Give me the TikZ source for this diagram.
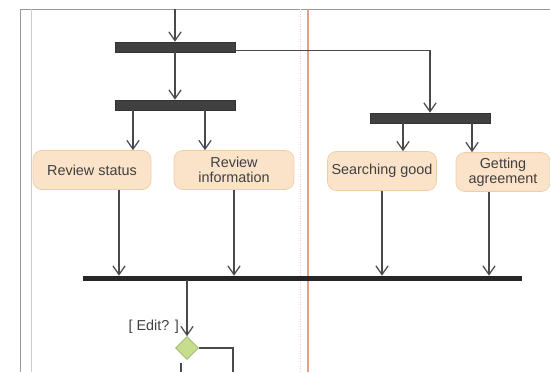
\documentclass[tikz,border=0pt]{standalone}
\usepackage{fontspec}
\setmainfont{Liberation Sans}
\usetikzlibrary{shapes.geometric,arrows.meta}
\definecolor{barfill}{HTML}{404040}
\definecolor{actfill}{HTML}{FBE3C9}
\definecolor{actline}{HTML}{F1CDA6}
\definecolor{decfill}{HTML}{C6DD8F}
\definecolor{decline}{HTML}{9CB36A}
\definecolor{flowline}{HTML}{4A4A4A}
\definecolor{laneline}{HTML}{E2A184}
\begin{document}
\begin{tikzpicture}[x=0.02cm, y=-0.02cm,
  bar/.style = {draw=black!80, fill=barfill, minimum width=2.4cm, minimum height=0.2cm, inner sep=0pt},
  act/.style = {draw=actline, fill=actfill, rounded corners=5pt, minimum height=0.78cm, inner sep=1pt,
                align=center, font=\fontsize{8.2}{8.7}\selectfont, text=black!75},
  arr/.style = {draw=flowline, line width=0.7pt, -{Straight Barb[length=5pt, width=7pt]}},
  flow/.style = {draw=flowline, line width=0.7pt}] 
\useasboundingbox (0,0) rectangle (550,372);
% frame and lanes
\draw[black!40] (20,372) -- (20,9) -- (550,9);
\draw[black!20] (31,9) -- (31,372);
\draw[red!20, densely dotted] (300,9) -- (300,372);
\draw[laneline, line width=0.6pt] (308,9) -- (308,372);

\coordinate (top) at (175,9);
\node[bar] (bar1) at (175,47) {}; 
\node[bar] (bar2) at (175,105) {}; 
\node[bar] (bar3) at (430,118) {}; 
\node[act, minimum width=2.36cm] (status) at (92,170) {Review status}; 
\node[act, minimum width=2.4cm] (info) at (234,170) {Review\\information}; 
\node[act, minimum width=2.18cm] (search) at (382,171) {Searching good}; 
\node[act, minimum width=1.88cm] (agree) at (503,172) {Getting\\agreement}; 
\node[draw=black!85, fill=black!85, minimum width=8.76cm, minimum height=0.08cm, inner sep=0pt] (join) at (302,278) {}; 
\node[diamond, draw=decline, fill=decfill, minimum width=0.46cm, minimum height=0.46cm, inner sep=0pt] (dec) at (187,348) {}; 
\coordinate (out1) at (233,372);
\coordinate (out2) at (181,372);

\draw[arr] (top) -- (bar1); 
\draw[arr] (bar1) -- (bar2); 
\draw[arr] ([yshift=-2pt]bar1.east) -| (bar3.north); 
\draw[arr] ([xshift=0.82cm]status.north |- bar2.south) -- ([xshift=0.82cm]status.north); 
\draw[arr] ([xshift=-0.58cm]info.north |- bar2.south) -- ([xshift=-0.58cm]info.north); 
\draw[arr] ([xshift=0.42cm]search.north |- bar3.south) -- ([xshift=0.42cm]search.north); 
\draw[arr] ([xshift=-0.62cm]agree.north |- bar3.south) -- ([xshift=-0.62cm]agree.north); 
\draw[arr] ([xshift=0.54cm]status.south) -- ([xshift=0.54cm]status.south |- join.north); 
\draw[arr] (info.south) -- (info.south |- join.north); 
\draw[arr] (search.south) -- (search.south |- join.north); 
\draw[arr] ([xshift=-0.28cm]agree.south) -- ([xshift=-0.28cm]agree.south |- join.north); 
\draw[arr] (dec.north |- join.south) -- node[pos=1, anchor=south east, xshift=-1pt, yshift=-2pt, font=\fontsize{8.2}{9}\selectfont, text=black!75] {[ Edit? ]} (dec.north); 
\draw[flow] (dec.east) -| (out1); 
\draw[flow] (dec.south -| out2) ++(0,3) -- (out2); 
\end{tikzpicture}
\end{document}
